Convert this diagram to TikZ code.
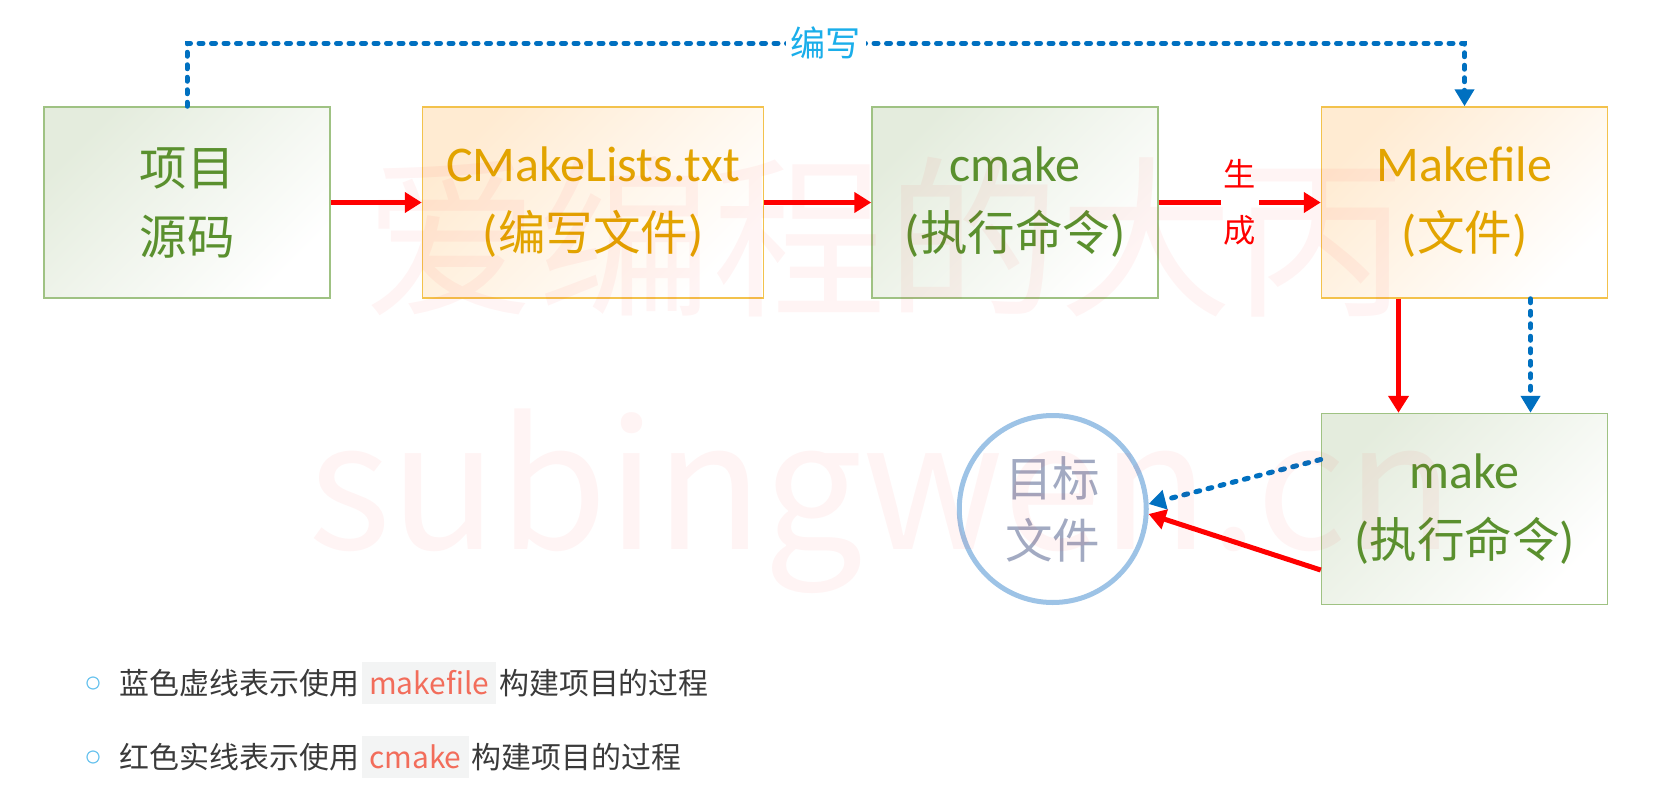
\documentclass[tikz,border=0pt]{standalone}
\usepackage{fontspec}
\setmainfont{Carlito}
\newfontfamily\cjk[Scale=0.95]{Noto Sans CJK SC}
\usetikzlibrary{arrows.meta,positioning,calc}
\newcommand{\zh}[1]{{\cjk #1}}
\definecolor{boxgreen}{HTML}{9FC283}
\definecolor{txtgreen}{HTML}{5A902E}
\definecolor{fillgreen}{HTML}{E4ECDD}
\definecolor{boxgold}{HTML}{F3C24C}
\definecolor{txtgold}{HTML}{E2A400}
\definecolor{fillgold}{HTML}{FFEBD2}
\definecolor{lineblue}{HTML}{0070C0}
\definecolor{labelblue}{HTML}{1AAEEA}
\definecolor{ringblue}{HTML}{9DC3E6}
\definecolor{txtgrey}{HTML}{A2AAC2}
\definecolor{codered}{HTML}{F26D5B}
\definecolor{codebg}{HTML}{F3F4F4}
\definecolor{bodytext}{HTML}{3A3A3A}
\definecolor{bulletblue}{HTML}{6CC4EE}
\newcommand{\code}[1]{{\setlength{\fboxsep}{0pt}\colorbox{codebg}{\rule[-9.5pt]{0pt}{42pt}\hspace{7pt}\textcolor{codered}{#1}\hspace{7pt}}}}
\tikzset{
  stepbox/.style={rectangle, line width=1.5pt, minimum width=286pt, minimum height=191pt,
    inner sep=0pt, align=center, font=\fontsize{50}{69}\selectfont},
  greenbox/.style={stepbox, draw=boxgreen, top color=fillgreen, bottom color=white,
    shading angle=45, text=txtgreen},
  goldbox/.style={stepbox, draw=boxgold, top color=fillgold, bottom color=white,
    shading angle=45, text=txtgold},
  target/.style={circle, draw=ringblue, line width=5pt, fill=white, minimum size=187pt,
    inner sep=0pt, align=center, text=txtgrey, font=\fontsize{50}{62}\selectfont\cjk},
  redarr/.style={-{Triangle[length=17pt,width=20pt]}, line width=5pt, draw=red},
  bluearr/.style={-{Triangle[length=17pt,width=19pt]}, line width=5pt, draw=lineblue,
    dash pattern=on 4pt off 8.5pt, line cap=round},
  genlabel/.style={fill=white, text=red, align=center, inner xsep=3pt, inner ysep=0pt,
    font=\fontsize{34}{56}\selectfont\cjk},
  writelabel/.style={fill=white, text=labelblue, inner xsep=5pt, inner ysep=2pt,
    font=\fontsize{37}{40}\selectfont\cjk},
  bullet/.style={circle, draw=bulletblue, line width=1.2pt, minimum size=12pt, inner sep=0pt},
  legend/.style={anchor=base west, inner sep=0pt, text=bodytext,
    font=\fontsize{31.5}{36}\selectfont\cjk},
  mark text/.style={text=red, text opacity=0.045, inner sep=0pt},
}
\begin{document}
\begin{tikzpicture}[x=1pt,y=1pt]
  \useasboundingbox (0,0) rectangle (1655,-787);
  % ── top row ───────────────────────────────────────────────────────
  \node[greenbox] (src) at (187,-202.5) {\zh{项目}\\\zh{源码}};
  \node[goldbox, minimum width=341pt, right=91pt of src] (lists) {CMakeLists.txt\\(\zh{编写文件})};
  \node[greenbox, right=107pt of lists] (cmk) {cmake\\(\zh{执行命令})};
  \node[goldbox, right=162pt of cmk] (mkf) {Makefile\\(\zh{文件})};
  % ── bottom row ────────────────────────────────────────────────────
  \node[greenbox, below=114pt of mkf] (mk) {make\\(\zh{执行命令})};
  \node[target, left=172pt of mk] (tgt) {目标\\文件};
  % ── red: the cmake route ──────────────────────────────────────────
  \draw[redarr] (src) -- (lists);
  \draw[redarr] (lists) -- (cmk);
  \draw[redarr] (cmk) -- node[genlabel] {生\\成} (mkf);
  \draw[redarr] ($(mkf.south)+(-66pt,0)$) -- ($(mk.north)+(-66pt,0)$);
  \draw[redarr] (mk.203) -- (tgt.357);
  % ── blue: the makefile route ──────────────────────────────────────
  \coordinate (up) at ($(src.north)+(0,63pt)$);
  \draw[bluearr] (src.north) -- (up) -| node[pos=0.25, writelabel] {编写} (mkf.north);
  \draw[bluearr] ($(mkf.south)+(66pt,0)$) -- ($(mk.north)+(66pt,0)$);
  \draw[bluearr] (mk.161) -- (tgt.3);
  % ── legend ────────────────────────────────────────────────────────
  \node[bullet] (bul1) at (93,-683) {};
  \node[bullet] (bul2) at (93,-757) {};
  \node[legend] (leg1) at ($(bul1.east)+(20pt,-11.4pt)$)
    {蓝色虚线表示使用\hspace{3pt}\code{makefile}\hspace{3pt}构建项目的过程};
  \node[legend] (leg2) at ($(bul2.east)+(20pt,-11.4pt)$)
    {红色实线表示使用\hspace{3pt}\code{cmake}\hspace{3pt}构建项目的过程};
  % watermark
  \node[mark text, font=\fontsize{183}{183}\selectfont\cjk] (wm1) at (886,-237) {爱编程的大丙};
  \node[mark text, anchor=base, font=\fontsize{186}{186}\selectfont\cjk] (wm2) at (881,-549) {subingwen.cn};
\end{tikzpicture}
\end{document}
